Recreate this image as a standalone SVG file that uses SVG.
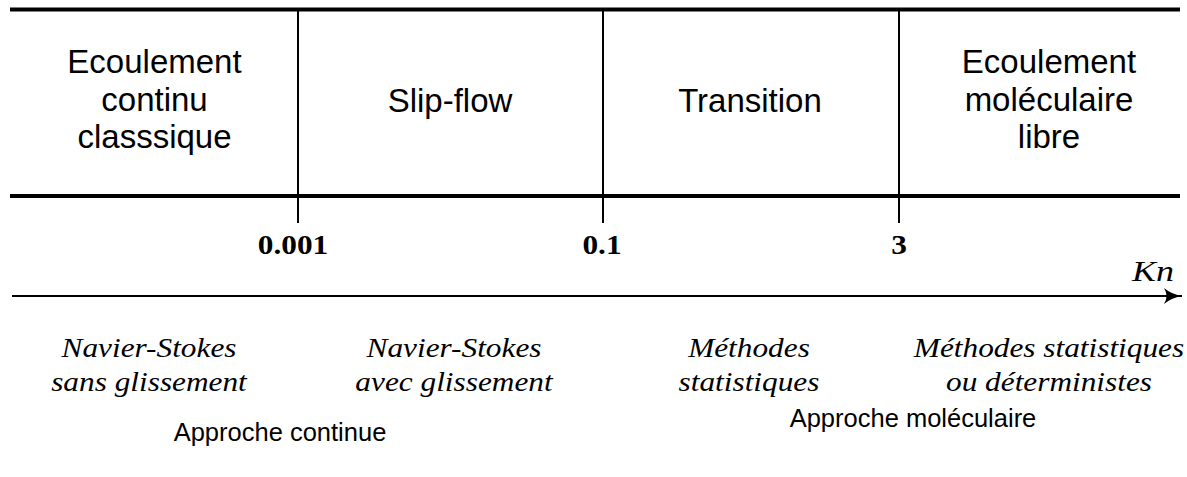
<svg xmlns="http://www.w3.org/2000/svg" width="1187" height="477" viewBox="0 0 1187 477">
<defs>
<marker id="arr" markerWidth="20" markerHeight="16" refX="18" refY="8" orient="auto" markerUnits="userSpaceOnUse">
<path d="M0,0 Q7,6 18,8 Q7,10 0,16 Q5,8 0,0 Z" fill="#000"/>
</marker>
<style>
.reg{font-family:"Liberation Sans",Arial,sans-serif;font-size:33px;fill:#000;text-anchor:middle}
.ap{font-family:"Liberation Sans",Arial,sans-serif;font-size:25.5px;fill:#000;text-anchor:middle}
.num{font-family:"Liberation Serif","Times New Roman",serif;font-weight:bold;font-size:27px;fill:#000;text-anchor:middle}
.it{font-family:"Liberation Serif","Times New Roman",serif;font-style:italic;font-size:27px;fill:#000;text-anchor:middle}
.kn{font-family:"Liberation Serif","Times New Roman",serif;font-style:italic;font-size:30px;fill:#000}
.thick{stroke:#000;stroke-width:4;fill:none}
.thin{stroke:#000;stroke-width:2;fill:none}
</style>
</defs>
<rect width="1187" height="477" fill="#fff"/>
<g id="connectors">
<line class="thick" x1="10" y1="9.5" x2="1180" y2="9.5"/>
<line class="thick" x1="10" y1="196" x2="1180" y2="196"/>
<line class="thin" x1="298" y1="9" x2="298" y2="223"/>
<line class="thin" x1="603" y1="9" x2="603" y2="223"/>
<line class="thin" x1="899" y1="9" x2="899" y2="223"/>
<line class="thin" x1="12" y1="296" x2="1182" y2="296" marker-end="url(#arr)"/>
</g>
<g id="region-continu">
<text class="reg" x="154.5" y="73">Ecoulement</text>
<text class="reg" x="154.5" y="111">continu</text>
<text class="reg" x="154.5" y="148">classsique</text>
</g>
<g id="region-slip">
<text class="reg" x="450" y="112">Slip-flow</text>
</g>
<g id="region-transition">
<text class="reg" x="750" y="112">Transition</text>
</g>
<g id="region-libre">
<text class="reg" x="1049" y="73">Ecoulement</text>
<text class="reg" x="1049" y="111">moléculaire</text>
<text class="reg" x="1049" y="148">libre</text>
</g>
<g id="ticks">
<text class="num" transform="translate(293,254) scale(1.16,1)">0.001</text>
<text class="num" transform="translate(602,254) scale(1.16,1)">0.1</text>
<text class="num" transform="translate(899,254) scale(1.16,1)">3</text>
<text class="kn" transform="translate(1132,281) scale(1.2,1)">Kn</text>
</g>
<g id="methods">
<text class="it" transform="translate(149,357) scale(1.16,1)">Navier-Stokes</text>
<text class="it" transform="translate(149,391) scale(1.16,1)">sans glissement</text>
<text class="it" transform="translate(454,357) scale(1.16,1)">Navier-Stokes</text>
<text class="it" transform="translate(454,391) scale(1.16,1)">avec glissement</text>
<text class="it" transform="translate(749,357) scale(1.16,1)">Méthodes</text>
<text class="it" transform="translate(749,391) scale(1.16,1)">statistiques</text>
<text class="it" transform="translate(1049,357) scale(1.16,1)">Méthodes statistiques</text>
<text class="it" transform="translate(1049,391) scale(1.16,1)">ou déterministes</text>
</g>
<g id="approaches">
<text class="ap" x="280" y="441">Approche continue</text>
<text class="ap" x="913" y="427">Approche moléculaire</text>
</g>
</svg>
